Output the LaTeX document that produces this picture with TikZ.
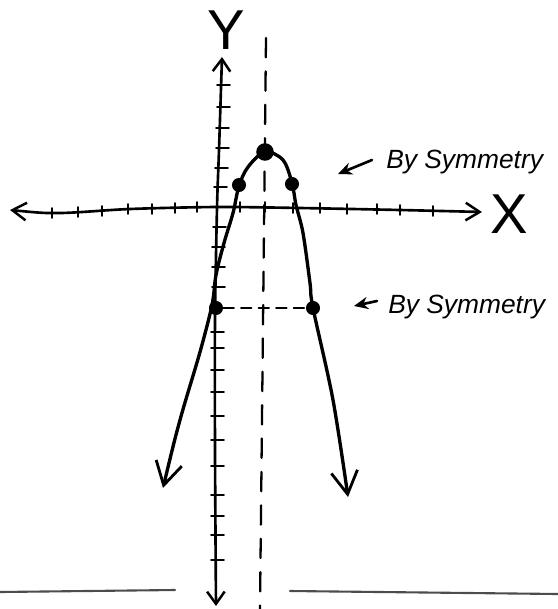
\documentclass[tikz,border=0pt]{standalone}
\usepackage{fontspec}
\setmainfont{Liberation Sans}
\usetikzlibrary{arrows.meta}
\tikzset{
  bigbarb/.tip={Straight Barb[length=13pt,width=15pt,line width=1.6pt]},
  smallbarb/.tip={Straight Barb[length=7pt,width=10pt,line width=1.4pt]},
  xbarb/.tip={Straight Barb[length=8pt,width=10pt,line width=1.4pt]}}
\begin{document}
\begin{tikzpicture}[x=0.02cm,y=-0.02cm,line cap=round,line join=round,
  ax/.style={line width=1.5pt},
  crv/.style={line width=1.9pt},
  tk/.style={line width=1.1pt},
  dot/.style={circle,fill=black,inner sep=0pt,minimum size=8pt},
  bigdot/.style={circle,fill=black,inner sep=0pt,minimum size=10pt},
  lbl/.style={font=\fontsize{15}{15}\selectfont\itshape,inner sep=0pt},
  axlbl/.style={font=\fontsize{32}{32}\selectfont,inner sep=0pt},
  sym/.style={-{Stealth[length=8pt,width=7pt]},line width=1.5pt}]
\useasboundingbox (0,0) rectangle (558,609);
% axes
\draw[ax,{xbarb}-{xbarb}]
  plot[smooth,tension=0.5] coordinates {(10,210) (60,213) (130,209) (217,207) (300,208) (400,210) (482,212)};
\draw[ax,{smallbarb}-{smallbarb}]
  plot[smooth,tension=0.5] coordinates {(222,57) (219,150) (217,208) (215,320) (215,450) (216,606)};
% x ticks
\foreach \x/\y in {52/213,78/212,102/211,128/209,152/209,175/208,197/207,240/207,265/207,293/208,320/208,347/209,377/209,400/210,433/211}
  \draw[tk] (\x,\y-5) -- (\x,\y+5);
% y ticks
\foreach \y/\x in {85/221,107/221,128/220,148/220,168/219,187/218,227/217,247/216,267/216,287/216,332/215,348/215,370/215,392/215,416/215,440/215,466/215,495/215,516/215,535/215,560/215}
  \draw[tk] (\x-4,\y) -- (\x+9,\y);
% axis labels
\node[axlbl] (X) at (509,214) {X};
\node[axlbl] (Y) at (226,30) {Y};
% axis of symmetry
\coordinate (dt) at (266,38);
\coordinate (db) at (260,609);
\draw[line width=1.3pt,dash pattern=on 11pt off 8pt] (dt) -- (db);
% parabola
\draw[crv,{bigbarb}-{bigbarb}] plot[smooth,tension=0.55] coordinates {
  (163,488) (180,420) (200,352) (212,305) (216,275) (224,243) (233,213) (239,186)
  (248,167) (265,152) (283,160) (292,183) (296,205) (303,233) (310,283) (313,308) (333,400) (348,497)};
% points
\node[bigdot] (v) at (265,152) {};
\node[dot] (p1) at (239,185) {};
\node[dot] (p3) at (292,184) {};
\node[dot] (p0) at (216,308) {};
\node[dot] (p4) at (313,308) {};
\draw[line width=1pt,dash pattern=on 6pt off 4pt] (p0) -- (p4);
% labels
\node[lbl,anchor=west] (s1) at (386,162) {By Symmetry};
\node[lbl,anchor=west] (s2) at (388,307) {By Symmetry};
\coordinate (a1s) at (372,160);
\coordinate (a1e) at (338,174);
\coordinate (a2s) at (377,301);
\coordinate (a2e) at (354,306);
\draw[sym] (a1s) -- (a1e);
\draw[sym] (a2s) -- (a2e);
% scan streaks at bottom
\draw[black!70,line width=1.2pt] (0,592) -- (175,590);
\draw[black!70,line width=1.2pt] (290,591) -- (558,594);
\end{tikzpicture}
\end{document}
